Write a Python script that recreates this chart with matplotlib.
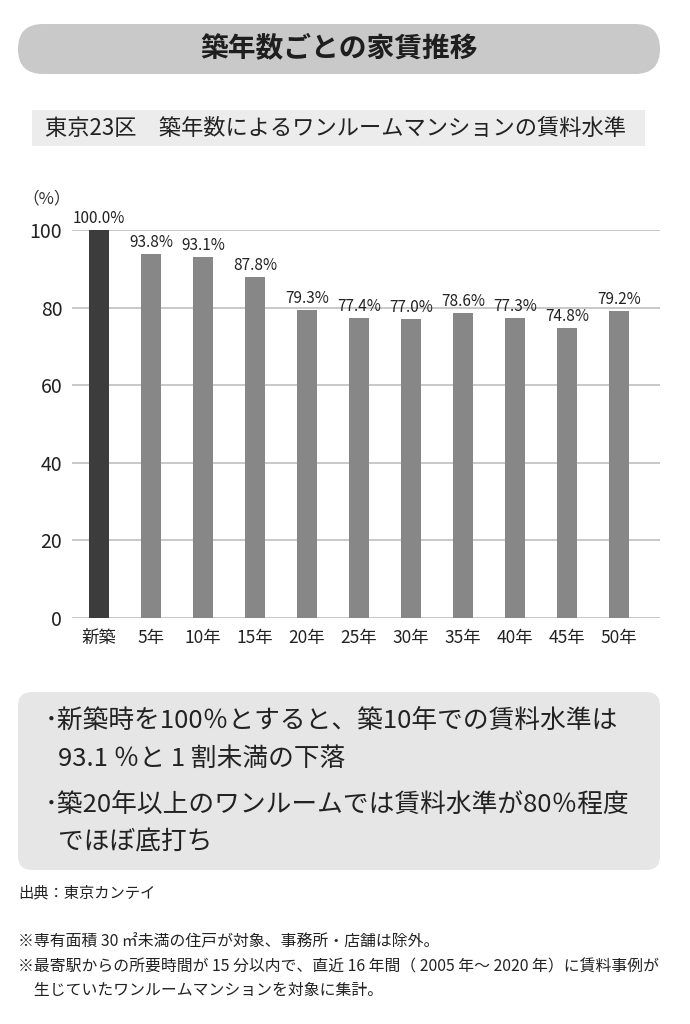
import matplotlib
matplotlib.use('Agg')
import matplotlib.pyplot as plt
from matplotlib.patches import FancyBboxPatch, Rectangle

# data
categories = ['新築', '5年', '10年', '15年', '20年', '25年', '30年', '35年', '40年', '45年', '50年']
rent_level = [100.0, 93.8, 93.1, 87.8, 79.3, 77.4, 77.0, 78.6, 77.3, 74.8, 79.2]
yticks = [0, 20, 40, 60, 80, 100]

title = '築年数ごとの家賃推移'
subtitle = '東京23区　築年数によるワンルームマンションの賃料水準'
notes_box = ['･新築時を100％とすると、築10年での賃料水準は',
             '93.1 ％と 1 割未満の下落',
             '･築20年以上のワンルームでは賃料水準が80％程度',
             'でほぼ底打ち']
source = '出典：東京カンテイ'
footnotes = ['※専有面積 30 ㎡未満の住戸が対象、事務所・店舗は除外。',
             '※最寄駅からの所要時間が 15 分以内で、直近 16 年間（ 2005 年～ 2020 年）に賃料事例が',
             '　生じていたワンルームマンションを対象に集計。']

jp = 'Noto Sans CJK JP'
plt.rcParams['font.family'] = [jp, 'DejaVu Sans']

W, H = 690, 1024
fig = plt.figure(figsize=(W / 100, H / 100), dpi=100)
fig.patch.set_facecolor('white')

# background layer in pixel coordinates
bg = fig.add_axes([0, 0, 1, 1], zorder=0)
bg.set_xlim(0, W)
bg.set_ylim(H, 0)
bg.axis('off')

bg.add_patch(FancyBboxPatch((18, 24), 642, 50, boxstyle='round,pad=0,rounding_size=25',
                            fc='#c9c9c9', ec='none'))
bg.text(339, 48, title, ha='center', va='center', fontsize=20, fontweight='bold', color='#1e1e1e')

bg.add_patch(Rectangle((32, 110), 613, 36, fc='#ececec', ec='none'))
bg.text(45, 128, subtitle, ha='left', va='center', fontsize=16, color='#222222')

bg.text(47, 199, '（%）', ha='center', va='center', fontsize=12, color='#333333')

bg.add_patch(FancyBboxPatch((18, 692), 642, 178, boxstyle='round,pad=0,rounding_size=14',
                            fc='#e6e6e6', ec='none'))
line_y = [721, 759, 805, 842]
line_x = [45, 58, 45, 58]
for x, y, s in zip(line_x, line_y, notes_box):
    bg.text(x, y, s, ha='left', va='center', fontsize=18.5, color='#222222')

bg.text(18, 893, source, ha='left', va='center', fontsize=11, color='#222222')
for y, s in zip([942, 967, 990], footnotes):
    bg.text(18, y, s, ha='left', va='center', fontsize=11.4, color='#222222')

# chart
ax = fig.add_axes([72 / W, 1 - 618 / H, (660 - 72) / W, (618 - 230) / H], zorder=1)
ax.patch.set_alpha(0)
x = list(range(len(categories)))
colors = ['#3c3c3c'] + ['#878787'] * (len(categories) - 1)
bars = ax.bar(x, rent_level, width=0.4, color=colors, zorder=2)
ax.set_xlim(-0.52, 10.79)
ax.set_ylim(0, 100)
ax.set_yticks(yticks)
ax.set_yticklabels([str(t) for t in yticks], fontsize=14, color='#222222')
ax.set_xticks(x)
ax.set_xticklabels(categories, fontsize=12.5, color='#222222')
ax.tick_params(length=0, pad=8)
ax.tick_params(axis='y', pad=7)
ax.grid(axis='y', color='#c4c4c4', linewidth=1.3, zorder=0)
for s in ax.spines.values():
    s.set_visible(False)
for b, v in zip(bars, rent_level):
    ax.text(b.get_x() + b.get_width() / 2, v + 0.8, f'{v:.1f}%', ha='center', va='bottom',
            fontsize=11, color='#222222', clip_on=False)

fig.savefig('out.png', dpi=100)
